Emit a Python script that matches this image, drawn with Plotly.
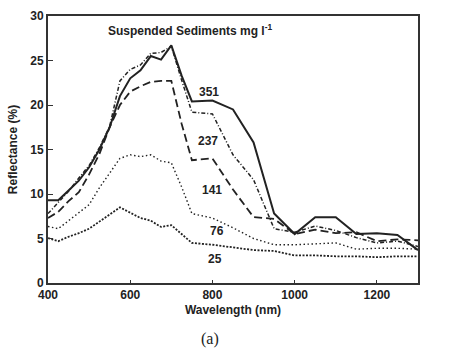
import plotly.graph_objects as go

wavelength = [400, 425, 450, 475, 500, 525, 550, 575, 600, 625, 650, 675, 700, 725,
              750, 800, 850, 900, 950, 1000, 1050, 1100, 1150, 1200, 1250, 1300]

ss_351 = [9.3, 9.3, 10.4, 11.5, 13.0, 15.0, 17.5, 21.0, 23.0, 23.9, 25.5, 25.1, 26.7, 23.3,
          20.4, 20.5, 19.5, 15.8, 7.8, 5.5, 7.4, 7.4, 5.5, 5.6, 5.4, 3.7]
ss_237 = [7.8, 9.0, 10.3, 11.8, 13.2, 15.2, 17.6, 22.7, 24.0, 24.5, 25.8, 25.9, 26.6, 22.8,
          19.2, 19.0, 14.4, 11.6, 6.1, 5.7, 6.4, 5.9, 5.1, 4.5, 4.7, 4.1]
ss_141 = [7.3, 8.0, 9.2, 10.2, 12.2, 14.5, 17.5, 20.0, 21.5, 22.1, 22.6, 22.7, 22.7, 17.9,
          13.8, 14.0, 10.5, 7.4, 7.2, 5.5, 6.0, 5.6, 5.7, 4.7, 4.9, 4.8]
ss_76 = [6.35, 6.1, 7.0, 7.9, 8.8, 10.7, 12.4, 14.0, 14.4, 14.2, 14.4, 13.7, 13.5, 10.8,
         7.8, 7.3, 6.2, 5.0, 4.3, 4.3, 4.4, 4.5, 3.8, 3.9, 3.9, 3.8]
ss_25 = [5.05, 4.7, 5.2, 5.6, 6.1, 6.9, 7.7, 8.5, 7.9, 7.3, 7.0, 6.3, 6.5, 5.5,
         4.5, 4.3, 4.0, 3.7, 3.6, 3.1, 3.1, 3.0, 3.0, 2.9, 3.0, 3.0]

series_labels = ["351", "237", "141", "76", "25"]
label_x = [792, 790, 800, 810, 806]
label_y = [21.5, 15.9, 10.5, 5.8, 2.7]

x_ticks = [400, 600, 800, 1000, 1200]
y_ticks = [0, 5, 10, 15, 20, 25, 30]

ink = "#222222"
styles = [
    dict(width=2, dash="solid"),
    dict(width=1.5, dash="4px,2px,1px,2px"),
    dict(width=1.8, dash="8px,4px"),
    dict(width=1.4, dash="1.5px,2.5px"),
    dict(width=1.8, dash="2px,1.5px"),
]

fig = go.Figure()
for ys, st, name in zip([ss_351, ss_237, ss_141, ss_76, ss_25], styles, series_labels):
    fig.add_trace(go.Scatter(x=wavelength, y=ys, mode="lines", name=name,
                             line=dict(color=ink, width=st["width"], dash=st["dash"]),
                             showlegend=False))

bold = dict(family="Liberation Sans, Arial, sans-serif", size=12, color=ink, weight="bold")

annotations = []
for t, x, y in zip(series_labels, label_x, label_y):
    annotations.append(dict(x=x, y=y, xref="x", yref="y", text=t, showarrow=False,
                            font=bold, xanchor="center", yanchor="middle"))
annotations.append(dict(x=541, y=28.4, xref="x", yref="y",
                        text="Suspended Sediments mg l<sup>-1</sup>", showarrow=False,
                        font=dict(family="Liberation Sans, Arial, sans-serif", size=12,
                                  color=ink, weight="bold"),
                        xanchor="left", yanchor="middle"))

pw, ph = 460 - 48 - 42, 350 - 9 - 67
annotations.append(dict(x=(210 - 48) / pw, y=(350 - 67 - 340) / ph, xref="paper", yref="paper",
                        text="(a)", showarrow=False, xanchor="center", yanchor="middle",
                        font=dict(family="Liberation Serif, Times New Roman, serif", size=16,
                                  color=ink)))

fig.update_layout(
    width=460, height=350,
    margin=dict(l=48, r=42, t=9, b=67),
    paper_bgcolor="white", plot_bgcolor="white",
    annotations=annotations,
)

fig.update_xaxes(range=[400, 1300], tickvals=x_ticks, ticktext=[str(v) for v in x_ticks],
                 showgrid=False, zeroline=False, showline=True, mirror=True,
                 linecolor="#333333", linewidth=2, ticks="inside", ticklen=3,
                 tickcolor="#333333", tickfont=bold,
                 title=dict(text="Wavelength (nm)", font=bold, standoff=4))
fig.update_yaxes(range=[0, 30], tickvals=y_ticks, ticktext=[str(v) for v in y_ticks],
                 showgrid=False, zeroline=False, showline=True, mirror=True,
                 linecolor="#333333", linewidth=2, ticks="inside", ticklen=5,
                 tickcolor="#333333", tickfont=bold,
                 title=dict(text="Reflectance (%)", font=bold, standoff=10))

fig.write_html("out.html")
